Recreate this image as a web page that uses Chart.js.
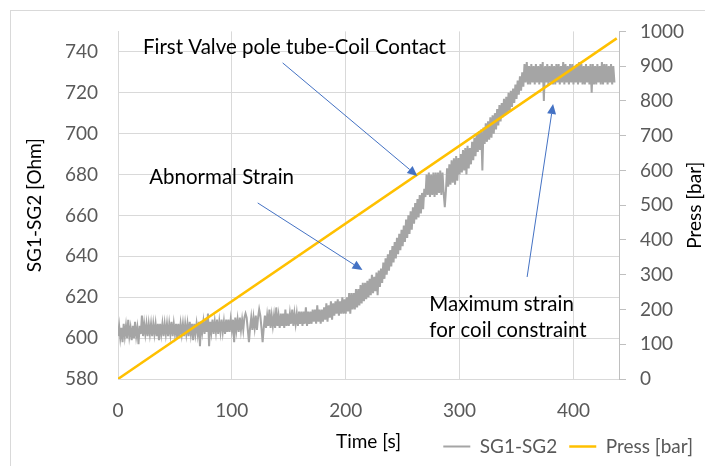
<!DOCTYPE html>
<html lang="en">
<head>
  <meta charset="UTF-8" />
  <title>SG1-SG2 vs Press</title>
  <style>
    body { margin: 0; background: #fff; }
    canvas { display: block; }
  </style>
</head>
<body>
  <canvas id="sgChart" width="705" height="466"></canvas>

  <script src="https://cdn.jsdelivr.net/npm/chart.js"></script>
  <script>
    // SG1-SG2 resistance [Ohm], one sample per second from t = 0 s
    const sgStep = 1;
    const sgValues = [
      601,606,600,605,598,607,601,606,600,609,
      601,605,599,606,600,608,601,605,597,606,
      602,611,601,607,602,607,601,607,602,607,
      601,607,602,607,601,607,599,607,602,607,
      601,607,602,607,601,607,602,608,601,607,
      602,607,600,607,601,607,602,607,601,607,
      602,607,601,608,602,607,599,607,602,607,
      602,608,596,608,603,608,602,609,603,612,
      596,608,603,609,602,608,603,609,602,608,
      603,609,603,608,602,609,603,609,603,609,
      604,609,598,610,604,609,603,610,604,609,
      604,610,612,610,604,598,605,610,604,610,
      605,611,604,610,614,611,605,598,605,611,
      605,611,606,614,605,611,606,611,605,615,
      606,611,605,612,606,612,605,614,606,612,
      606,612,607,614,606,612,607,612,606,613,
      607,613,606,613,607,615,606,613,607,613,
      607,614,608,614,607,616,608,614,607,614,
      608,615,609,617,608,616,610,618,609,617,
      611,618,612,619,611,618,612,620,612,619,
      612,620,613,622,612,622,614,622,614,624,
      615,624,616,626,617,627,618,627,619,628,
      620,629,621,631,622,630,623,632,621,633,
      625,634,627,637,629,639,631,641,633,643,
      635,645,637,647,639,649,641,651,643,653,
      645,655,647,658,649,660,651,662,653,664,
      656,666,658,668,659,670,661,671,663,673,
      669,680,670,681,669,680,670,681,669,681,
      670,681,671,682,670,681,671,664,672,683,
      674,685,675,687,676,688,675,689,677,688,
      680,690,681,692,682,693,680,694,683,693,
      685,696,687,698,689,700,691,701,692,702,
      682,703,695,705,696,706,697,708,698,709,
      700,710,702,712,704,714,706,715,708,717,
      709,718,710,720,711,721,713,722,715,724,
      717,726,719,728,721,730,723,734,725,735,
      724,733,724,734,725,733,724,734,725,733,
      724,734,725,735,716,733,725,734,724,733,
      725,734,724,733,724,734,725,734,724,733,
      725,735,724,734,725,733,724,734,725,734,
      724,733,725,734,724,735,725,734,724,733,
      724,734,725,733,724,734,720,734,724,733,
      724,734,725,733,724,735,724,734,725,734,
      724,733,725,734,724,733,725
    ];

    // Press [bar], linear ramp
    const pressTime = [0, 438];
    const pressValues = [0, 980];

    // axis ranges: min, max, step
    const timeRange = [0, 440, 100];
    const ohmRange = [580, 750, 20];
    const barRange = [0, 1000, 100];

    // annotations in data units (time [s], Ohm)
    const noteTexts = [
      { lines: ['First Valve pole tube-Coil Contact'], t: 21.9, ohm: 739.1 },
      { lines: ['Abnormal Strain'], t: 27.4, ohm: 675.5 },
      { lines: ['Maximum strain', 'for coil constraint'], t: 273.4, ohm: 613.3 }
    ];
    const noteArrows = [
      { from: [144.6, 734.6], to: [262.9, 679.3] },
      { from: [122.7, 666.1], to: [214.7, 633.3] },
      { from: [359.3, 629.9], to: [382.1, 714.5] }
    ];

    const FONT = 'Lato';
    const TICK_COLOR = '#595959';
    const GRID_COLOR = '#D9D9D9';

    const sgPoints = sgValues.map((v, i) => ({ x: i * sgStep, y: v }));
    const pressPoints = pressTime.map((t, i) => ({ x: t, y: pressValues[i] }));

    const notesPlugin = {
      id: 'notes',
      beforeDraw(chart) {
        const c = chart.ctx;
        c.save();
        c.fillStyle = '#fff';
        c.fillRect(0, 0, chart.width, chart.height);
        c.strokeStyle = GRID_COLOR;
        c.lineWidth = 1;
        c.strokeRect(10.5, 10.5, chart.width + 20, chart.height + 20);
        c.restore();
      },
      afterDraw(chart) {
        const c = chart.ctx;
        const xs = chart.scales.x, ys = chart.scales.y, ys1 = chart.scales.y1;
        c.save();

        // right axis title, read bottom to top like the left one
        c.fillStyle = '#000';
        c.font = '19px ' + FONT;
        c.textAlign = 'center';
        c.textBaseline = 'middle';
        c.translate(ys1.right - 10, (ys1.top + ys1.bottom) / 2);
        c.rotate(-Math.PI / 2);
        c.fillText('Press [bar]', 0, 0);
        c.setTransform(1, 0, 0, 1, 0, 0);

        c.strokeStyle = '#4472C4';
        c.fillStyle = '#4472C4';
        c.lineWidth = 1;
        noteArrows.forEach(a => {
          const x1 = xs.getPixelForValue(a.from[0]), y1 = ys.getPixelForValue(a.from[1]);
          const x2 = xs.getPixelForValue(a.to[0]), y2 = ys.getPixelForValue(a.to[1]);
          const ang = Math.atan2(y2 - y1, x2 - x1);
          const len = 10, half = 4.5;
          const bx = x2 - len * Math.cos(ang), by = y2 - len * Math.sin(ang);
          c.beginPath();
          c.moveTo(x1, y1);
          c.lineTo(bx, by);
          c.stroke();
          c.beginPath();
          c.moveTo(x2, y2);
          c.lineTo(bx + half * Math.sin(ang), by - half * Math.cos(ang));
          c.lineTo(bx - half * Math.sin(ang), by + half * Math.cos(ang));
          c.closePath();
          c.fill();
        });

        c.fillStyle = '#000';
        c.font = '20.5px ' + FONT;
        c.textAlign = 'left';
        c.textBaseline = 'alphabetic';
        noteTexts.forEach(n => {
          const x = xs.getPixelForValue(n.t), y = ys.getPixelForValue(n.ohm);
          n.lines.forEach((line, i) => c.fillText(line, x, y + i * 26));
        });
        c.restore();
      }
    };

    new Chart(document.getElementById('sgChart'), {
      type: 'line',
      data: {
        datasets: [{
          label: 'SG1-SG2',
          data: sgPoints,
          borderColor: '#A5A5A5',
          backgroundColor: '#A5A5A5',
          borderWidth: 2,
          pointRadius: 0,
          yAxisID: 'y',
          order: 1
        }, {
          label: 'Press [bar]',
          data: pressPoints,
          borderColor: '#FFC000',
          backgroundColor: '#FFC000',
          borderWidth: 2.5,
          pointRadius: 0,
          yAxisID: 'y1',
          order: 0
        }]
      },
      options: {
        responsive: false,
        animation: false,
        devicePixelRatio: 1,
        layout: { padding: { top: 31, left: 0, right: 0, bottom: 0 } },
        font: { family: FONT },
        plugins: {
          tooltip: { enabled: false },
          legend: {
            position: 'bottom',
            align: 'end',
            labels: {
              usePointStyle: true,
              pointStyle: 'line',
              pointStyleWidth: 27,
              padding: 12,
              color: TICK_COLOR,
              font: { family: FONT, size: 19 },
              sort: (a, b) => a.datasetIndex - b.datasetIndex
            }
          }
        },
        scales: {
          x: {
            type: 'linear',
            position: 'bottom',
            min: timeRange[0],
            max: timeRange[1],
            afterFit: s => { s.height = 46; },
            ticks: { stepSize: timeRange[2], includeBounds: false, padding: 20, color: TICK_COLOR, font: { family: FONT, size: 19 } },
            grid: { color: GRID_COLOR, drawTicks: false },
            border: { color: GRID_COLOR },
            title: {
              display: true,
              text: 'Time [s]',
              color: '#000',
              font: { family: FONT, size: 19, lineHeight: 1 },
              padding: { top: 0, bottom: -26 }
            }
          },
          y: {
            position: 'left',
            min: ohmRange[0],
            max: ohmRange[1],
            afterFit: s => { s.width = 118; },
            ticks: { stepSize: ohmRange[2], includeBounds: false, padding: 20, color: TICK_COLOR, font: { family: FONT, size: 19 } },
            grid: { color: GRID_COLOR, drawTicks: false },
            border: { color: GRID_COLOR },
            title: {
              display: true,
              text: 'SG1-SG2 [Ohm]',
              color: '#000',
              font: { family: FONT, size: 19, lineHeight: 1 },
              padding: { top: 25, bottom: 0 }
            }
          },
          y1: {
            position: 'right',
            min: barRange[0],
            max: barRange[1],
            afterFit: s => { s.width = 86; },
            ticks: { stepSize: barRange[2], padding: 14, color: TICK_COLOR, font: { family: FONT, size: 19 }, callback: v => String(v) },
            grid: { drawOnChartArea: false, color: '#BFBFBF', tickLength: 7 },
            border: { color: '#BFBFBF' },
            title: { display: false }
          }
        }
      },
      plugins: [notesPlugin]
    });
  </script>
</body>
</html>
